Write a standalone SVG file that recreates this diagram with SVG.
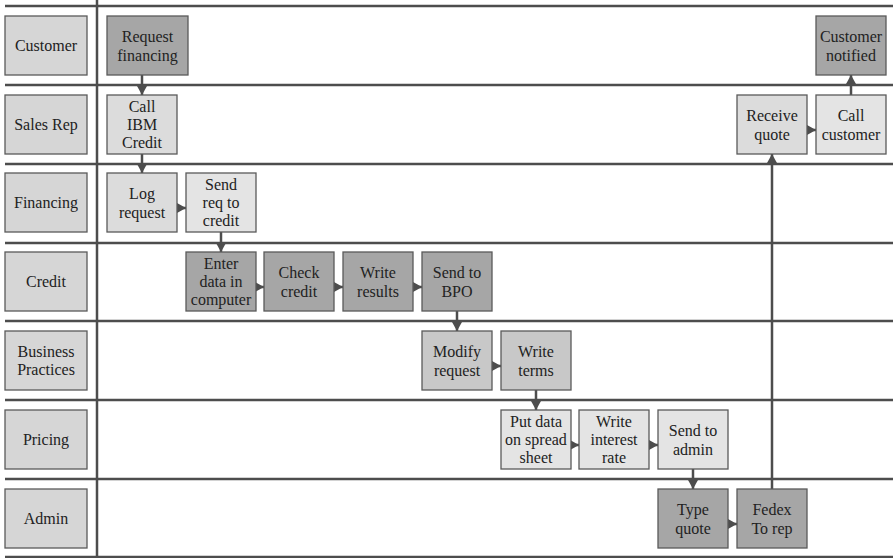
<svg xmlns="http://www.w3.org/2000/svg" width="893" height="558" viewBox="0 0 893 558">
<style>
.lane{stroke:#4d4d4d;stroke-width:2.5;fill:none}
.lbl{fill:#d6d6d6;stroke:#5a5a5a;stroke-width:1.3}
.dark{fill:#a6a6a6;stroke:#5a5a5a;stroke-width:1.3}
.med{fill:#c8c8c8;stroke:#5a5a5a;stroke-width:1.3}
.light{fill:#dcdcdc;stroke:#5a5a5a;stroke-width:1.3}
.lighter{fill:#e4e4e4;stroke:#5a5a5a;stroke-width:1.3}
text{font-family:"Liberation Serif","DejaVu Serif",serif;font-size:16px;fill:#222;text-anchor:middle}
.conn{stroke:#4d4d4d;stroke-width:2.5;fill:none;marker-end:url(#ah)}
</style>
<defs>
<marker id="ah" markerUnits="userSpaceOnUse" markerWidth="10" markerHeight="10" refX="9" refY="5" orient="auto">
<path d="M0,0 L9,5 L0,10 z" fill="#4d4d4d"/>
</marker>
</defs>
<rect width="893" height="558" fill="#fff"/>
<g id="lanes">
<line class="lane" x1="5" y1="6" x2="893" y2="6"/>
<line class="lane" x1="5" y1="85" x2="893" y2="85"/>
<line class="lane" x1="5" y1="164" x2="893" y2="164"/>
<line class="lane" x1="5" y1="243" x2="893" y2="243"/>
<line class="lane" x1="5" y1="321" x2="893" y2="321"/>
<line class="lane" x1="5" y1="400" x2="893" y2="400"/>
<line class="lane" x1="5" y1="479" x2="893" y2="479"/>
<line class="lane" x1="5" y1="557" x2="893" y2="557"/>
<line class="lane" x1="97" y1="0" x2="97" y2="558"/>
</g>
<g id="lane-customer"><rect class="lbl" x="5" y="16" width="82" height="59"/><text x="46" y="51">Customer</text></g>
<g id="lane-salesrep"><rect class="lbl" x="5" y="95" width="82" height="59"/><text x="46" y="130">Sales Rep</text></g>
<g id="lane-financing"><rect class="lbl" x="5" y="173" width="82" height="59"/><text x="46" y="208">Financing</text></g>
<g id="lane-credit"><rect class="lbl" x="5" y="252" width="82" height="59"/><text x="46" y="287">Credit</text></g>
<g id="lane-business"><rect class="lbl" x="5" y="331" width="82" height="59"/><text x="46" y="357">Business</text><text x="46" y="375">Practices</text></g>
<g id="lane-pricing"><rect class="lbl" x="5" y="410" width="82" height="59"/><text x="46" y="445">Pricing</text></g>
<g id="lane-admin"><rect class="lbl" x="5" y="489" width="82" height="59"/><text x="46" y="524">Admin</text></g>

<g id="connectors">
<line class="conn" x1="142" y1="75" x2="142" y2="95"/>
<line class="conn" x1="142" y1="154" x2="142" y2="173"/>
<line class="conn" x1="177" y1="208" x2="186" y2="208"/>
<line class="conn" x1="221" y1="232" x2="221" y2="252"/>
<line class="conn" x1="256" y1="287" x2="264" y2="287"/>
<line class="conn" x1="334" y1="287" x2="343" y2="287"/>
<line class="conn" x1="413" y1="287" x2="422" y2="287"/>
<line class="conn" x1="457" y1="311" x2="457" y2="331"/>
<line class="conn" x1="492" y1="366" x2="501" y2="366"/>
<line class="conn" x1="536" y1="390" x2="536" y2="410"/>
<line class="conn" x1="571" y1="445" x2="579" y2="445"/>
<line class="conn" x1="649" y1="445" x2="658" y2="445"/>
<line class="conn" x1="693" y1="469" x2="693" y2="489"/>
<line class="conn" x1="728" y1="524" x2="737" y2="524"/>
<line class="conn" x1="772" y1="489" x2="772" y2="154"/>
<line class="conn" x1="807" y1="130" x2="816" y2="130"/>
<line class="conn" x1="851" y1="95" x2="851" y2="75"/>
</g>

<g id="request-financing"><rect class="dark" x="107" y="16" width="81" height="59"/><text x="147.5" y="42">Request</text><text x="147.5" y="61">financing</text></g>
<g id="customer-notified"><rect class="dark" x="816" y="16" width="70" height="59"/><text x="851" y="42">Customer</text><text x="851" y="61">notified</text></g>
<g id="call-ibm-credit"><rect class="light" x="107" y="95" width="70" height="59"/><text x="142" y="112">Call</text><text x="142" y="130">IBM</text><text x="142" y="148">Credit</text></g>
<g id="receive-quote"><rect class="light" x="737" y="95" width="70" height="59"/><text x="772" y="121">Receive</text><text x="772" y="140">quote</text></g>
<g id="call-customer"><rect class="lighter" x="816" y="95" width="70" height="59"/><text x="851" y="121">Call</text><text x="851" y="140">customer</text></g>
<g id="log-request"><rect class="light" x="107" y="173" width="70" height="59"/><text x="142" y="199">Log</text><text x="142" y="218">request</text></g>
<g id="send-req"><rect class="lighter" x="186" y="173" width="70" height="59"/><text x="221" y="190">Send</text><text x="221" y="208">req to</text><text x="221" y="226">credit</text></g>
<g id="enter-data"><rect class="dark" x="186" y="252" width="70" height="59"/><text x="221" y="269">Enter</text><text x="221" y="287">data in</text><text x="221" y="305">computer</text></g>
<g id="check-credit"><rect class="dark" x="264" y="252" width="70" height="59"/><text x="299" y="278">Check</text><text x="299" y="297">credit</text></g>
<g id="write-results"><rect class="dark" x="343" y="252" width="70" height="59"/><text x="378" y="278">Write</text><text x="378" y="297">results</text></g>
<g id="send-to-bpo"><rect class="dark" x="422" y="252" width="70" height="59"/><text x="457" y="278">Send to</text><text x="457" y="297">BPO</text></g>
<g id="modify-request"><rect class="med" x="422" y="331" width="70" height="59"/><text x="457" y="357">Modify</text><text x="457" y="376">request</text></g>
<g id="write-terms"><rect class="med" x="501" y="331" width="70" height="59"/><text x="536" y="357">Write</text><text x="536" y="376">terms</text></g>
<g id="put-data"><rect class="lighter" x="501" y="410" width="70" height="59"/><text x="536" y="427">Put data</text><text x="536" y="445">on spread</text><text x="536" y="463">sheet</text></g>
<g id="write-interest"><rect class="lighter" x="579" y="410" width="70" height="59"/><text x="614" y="427">Write</text><text x="614" y="445">interest</text><text x="614" y="463">rate</text></g>
<g id="send-to-admin"><rect class="lighter" x="658" y="410" width="70" height="59"/><text x="693" y="436">Send to</text><text x="693" y="455">admin</text></g>
<g id="type-quote"><rect class="dark" x="658" y="489" width="70" height="59"/><text x="693" y="515">Type</text><text x="693" y="534">quote</text></g>
<g id="fedex"><rect class="dark" x="737" y="489" width="70" height="59"/><text x="772" y="515">Fedex</text><text x="772" y="534">To rep</text></g>
</svg>
